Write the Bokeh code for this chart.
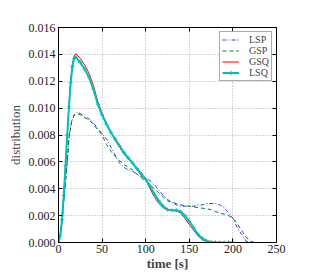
from bokeh.plotting import figure
from bokeh.models import (Range1d, FixedTicker, PrintfTickFormatter, LinearAxis,
                          Legend, LegendItem)
from bokeh.embed import file_html
from bokeh.resources import INLINE

# ---- data ----
x_sp = [0, 2, 4, 6, 8, 10, 12, 15, 18, 22, 25, 30, 35, 40, 45, 50, 55, 60, 65, 70, 75,
        80, 85, 90, 95, 100, 105, 110, 115, 120, 125, 130, 135, 140, 145, 150, 155,
        160, 165, 170, 175, 180, 185, 190, 195, 200, 205, 210, 215, 220, 225, 230]
lsp = [0, 0.0005, 0.0015, 0.003, 0.0045, 0.006, 0.0078, 0.009, 0.0095, 0.0097, 0.0096,
       0.0094, 0.0092, 0.0089, 0.0085, 0.0081, 0.0077, 0.0071, 0.0065, 0.0059, 0.0056,
       0.0054, 0.0053, 0.0051, 0.0049, 0.0048, 0.0046, 0.0043, 0.0039, 0.0035, 0.0032,
       0.0030, 0.0028, 0.0027, 0.0027, 0.0027, 0.0027, 0.0028, 0.0028, 0.0029, 0.0029,
       0.0029, 0.0028, 0.0026, 0.0022, 0.0018, 0.0011, 0.0006, 0.0001, 0.0, 0.0, 0.0]
gsp = [0, 0.0005, 0.0015, 0.003, 0.0045, 0.006, 0.0078, 0.009, 0.0095, 0.0096, 0.0095,
       0.0093, 0.0091, 0.0088, 0.0084, 0.0080, 0.0073, 0.0068, 0.0064, 0.0061, 0.0058,
       0.0056, 0.0054, 0.0051, 0.0048, 0.0046, 0.0043, 0.0040, 0.0037, 0.0034, 0.0031,
       0.0030, 0.0029, 0.0028, 0.00275, 0.0027, 0.00265, 0.0026, 0.00255, 0.0025,
       0.00245, 0.0023, 0.0022, 0.0021, 0.0020, 0.0018, 0.0014, 0.0009, 0.0004, 0.0001,
       0.0, 0.0]

x_sq = [0, 2, 4, 6, 8, 10, 12, 14, 16, 18, 20, 25, 30, 35, 40, 45, 50, 55, 60, 65, 70,
        75, 80, 85, 90, 95, 100, 105, 110, 115, 120, 125, 130, 135, 140, 145, 150, 155,
        160, 165, 170, 175, 180, 185, 190, 195, 200]
gsq = [0, 0.0005, 0.0017, 0.0035, 0.0057, 0.0080, 0.0103, 0.0121, 0.0133, 0.0139,
       0.01405, 0.0137, 0.0132, 0.0126, 0.0117, 0.0105, 0.0096, 0.0089, 0.0082, 0.0076,
       0.0071, 0.0066, 0.0062, 0.0059, 0.0054, 0.0050, 0.0047, 0.0040, 0.0034, 0.0029,
       0.0026, 0.0024, 0.00238, 0.00235, 0.0022, 0.0018, 0.00135, 0.0009, 0.0005,
       0.0002, 0.00007, 0.00002, 0.0, 0.0, 0.0, 0.0, 0.0]
lsq = [0, 0.0005, 0.0017, 0.0035, 0.0057, 0.0080, 0.0101, 0.0119, 0.0131, 0.0137,
       0.0138, 0.0134, 0.0129, 0.0123, 0.0114, 0.0103, 0.0095, 0.0088, 0.0082, 0.0077,
       0.0072, 0.0067, 0.0063, 0.0059, 0.0055, 0.0051, 0.0047, 0.0042, 0.0036, 0.0031,
       0.0027, 0.00245, 0.0024, 0.0024, 0.0023, 0.0020, 0.00158, 0.0011, 0.0006,
       0.0003, 0.00012, 0.00004, 0.00001, 0.0, 0.0, 0.0, 0.0]

x_ticks = [0, 50, 100, 150, 200, 250]
y_ticks = [0.0, 0.002, 0.004, 0.006, 0.008, 0.010, 0.012, 0.014, 0.016]

SERIF = "Liberation Serif"

p = figure(width=327, height=273, output_backend="svg", toolbar_location=None,
           x_range=Range1d(0, 250), y_range=Range1d(0, 0.016),
           min_border_left=58, min_border_right=51, min_border_top=27,
           min_border_bottom=28, background_fill_color="white",
           border_fill_color="white", outline_line_color="black",
           outline_line_width=1)

r_lsp = p.line(x_sp, lsp, line_color="#3a3aff", line_width=1, line_dash="4 2 1 2")
r_gsp = p.line(x_sp, gsp, line_color="#008000", line_width=1, line_dash="4 3")
r_gsq = p.line(x_sq, gsq, line_color="#ff0000", line_width=1)
r_lsq = p.line(x_sq, lsq, line_color="#00bfbf", line_width=2)
r_lsqm = p.scatter(x_sq, lsq, marker="cross", size=4, line_color="#00bfbf", line_width=1)

for ax in (p.xaxis[0], p.yaxis[0]):
    ax.major_tick_in = 4
    ax.major_tick_out = 0
    ax.minor_tick_in = 0
    ax.minor_tick_out = 0
    ax.major_label_text_font = SERIF
    ax.major_label_text_font_size = "12px"
    ax.major_label_text_color = "#222222"
    ax.axis_label_text_font = SERIF
    ax.axis_label_text_font_size = "13px"
    ax.axis_label_text_font_style = "normal"
    ax.axis_line_color = "black"

p.xaxis[0].ticker = FixedTicker(ticks=x_ticks)
p.yaxis[0].ticker = FixedTicker(ticks=y_ticks)
p.yaxis[0].formatter = PrintfTickFormatter(format="%.3f")
p.xaxis[0].axis_label = "time [s]"
p.xaxis[0].axis_label_text_font_style = "bold"
p.yaxis[0].axis_label = "distribution"
p.xaxis[0].major_label_standoff = 2
p.xaxis[0].axis_label_standoff = 0
p.yaxis[0].major_label_standoff = 3
p.yaxis[0].axis_label_standoff = 3

# inward ticks on top and right as well (labels not drawn)
top = LinearAxis(ticker=FixedTicker(ticks=x_ticks), major_label_text_color=None,
                 major_label_text_font_size="1px",
                 major_tick_in=4, major_tick_out=0, minor_tick_in=0, minor_tick_out=0,
                 major_label_standoff=0, axis_line_color="black")
right = LinearAxis(ticker=FixedTicker(ticks=y_ticks), major_label_text_color=None,
                   major_label_text_font_size="1px",
                   major_tick_in=4, major_tick_out=0, minor_tick_in=0, minor_tick_out=0,
                   major_label_standoff=0, axis_line_color="black")
p.add_layout(top, "above")
p.add_layout(right, "right")

p.xgrid.grid_line_color = "#aaaaaa"
p.xgrid.grid_line_dash = "1 2"
p.ygrid.grid_line_color = "#aaaaaa"
p.ygrid.grid_line_dash = "1 2"

legend = Legend(items=[
    LegendItem(label="LSP", renderers=[r_lsp]),
    LegendItem(label="GSP", renderers=[r_gsp]),
    LegendItem(label="GSQ", renderers=[r_gsq]),
    LegendItem(label="LSQ", renderers=[r_lsq, r_lsqm]),
], location="top_right")
legend.label_text_font = SERIF
legend.label_text_font_size = "10px"
legend.label_height = 11
legend.glyph_height = 11
legend.glyph_width = 17
legend.spacing = 0
legend.padding = 2
legend.margin = 4
legend.label_standoff = 10
legend.border_line_color = "#555555"
legend.border_line_width = 1
legend.background_fill_alpha = 1
p.add_layout(legend)

open("out.html", "w").write(file_html(p, INLINE))
